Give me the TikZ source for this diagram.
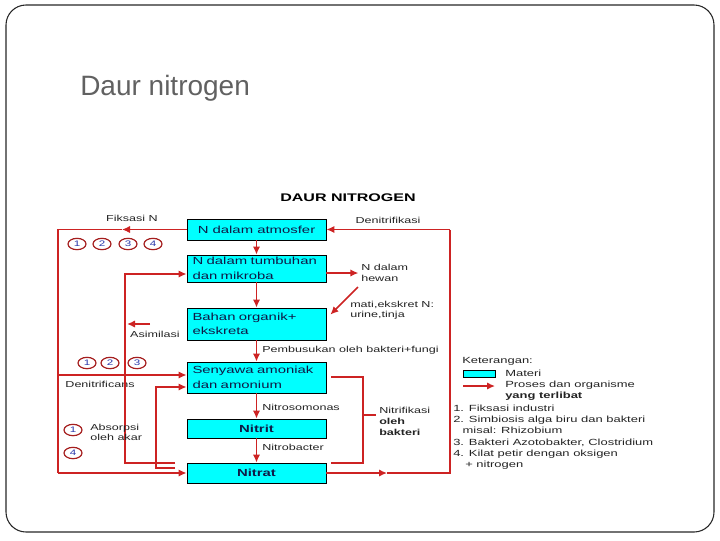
\documentclass[tikz,border=0pt]{standalone}
\usepackage{fontspec}
\setmainfont{Liberation Sans}
\newfontfamily\diagfont{Liberation Sans}[FakeStretch=1.45]
\usetikzlibrary{arrows.meta,shapes.geometric,calc}

\definecolor{boxcyan}{RGB}{0,255,255}
\definecolor{linered}{RGB}{205,35,35}
\definecolor{circred}{RGB}{165,30,30}
\definecolor{numblue}{RGB}{40,55,170}
\definecolor{boxtext}{RGB}{15,25,70}
\definecolor{labeltext}{RGB}{35,35,35}

\tikzset{
  materi/.style={draw=black, line width=0.6pt, fill=boxcyan, minimum width=104.25pt,
    inner sep=0pt, text=boxtext, font=\diagfont\fontsize{7.7}{10.9}\selectfont},
  materi2/.style={materi, text width=96pt, align=left},
  proses/.style={draw=linered, line width=1.1pt, -{Latex[length=6pt,width=5.5pt]}},
  garis/.style={draw=linered, line width=1.1pt},
  label/.style={inner sep=0pt, text=labeltext, font=\diagfont\fontsize{6.5}{7.8}\selectfont},
  nomor/.style={ellipse, draw=circred, line width=0.9pt, minimum width=13.5pt,
    minimum height=8.5pt, inner sep=0pt, text=numblue, font=\diagfont\fontsize{6}{6}\selectfont},
}

\begin{document}
\begin{tikzpicture}[x=0.75pt,y=0.75pt,yscale=-1,xscale=1]
\useasboundingbox (0,0) rectangle (720,540);

%%%%%%%%%%%%%%%%%%%%%%%%%%%%%%%%%%%%%%%%%%%%%%%%%%%%%%%%%%%%%%%%%%%%%%%%

\draw [black!85, line width=0.8pt, rounded corners=15pt] (6,5) rectangle (714,532);
\node [anchor=west, inner sep=0pt, text=black!62, font=\fontsize{21}{25}\selectfont] (slide) at (80,88) {Daur nitrogen};

\node [text=black, font=\diagfont\bfseries\fontsize{8.3}{10}\selectfont] (judul) at (348,198) {DAUR NITROGEN};

%%%%%%%%%%%%%%%%%%%%%%%%%%%%%%%%%%%%%%%%%%%%%%%%%%%%%%%%%%%%%%%%%%%%%%%%

\node [materi, minimum height=15.75pt] (atm) at (256.5,229.5) {N dalam atmosfer};
\node [materi2, minimum height=20.25pt] (tum) at (256.5,268.5) {N dalam tumbuhan\\dan mikroba};
\node [materi2, minimum height=24pt] (bahan) at (256.5,324) {Bahan organik+\\ekskreta};
\node [materi2, minimum height=23.25pt] (sen) at (256.5,377.5) {Senyawa amoniak\\dan amonium};
\node [materi, minimum height=14.25pt, font=\diagfont\bfseries\fontsize{7.7}{9}\selectfont] (nitrit) at (256.5,428.5) {Nitrit};
\node [materi, minimum height=15pt, font=\diagfont\bfseries\fontsize{7.7}{9}\selectfont] (nitrat) at (256.5,473) {Nitrat};

\foreach \a/\b in {atm/tum, tum/bahan, bahan/sen, sen/nitrit, nitrit/nitrat}
  \draw [proses] (\a) -- (\b);

\node [label, anchor=west] (busuk) at (262,350) {Pembusukan oleh bakteri+fungi};
\node [label, anchor=west] (somonas) at (262,407) {Nitrosomonas};
\node [label, anchor=west] (bacter) at (262,447) {Nitrobacter};

%%%%%%%%%%%%%%%%%%%%%%%%%%%%%%%%%%%%%%%%%%%%%%%%%%%%%%%%%%%%%%%%%%%%%%%%

\node [label] (denitri) at (388,220) {Denitrifikasi};
\coordinate (kanan1) at (387,473);
\coordinate (kanan2) at (450,229.5);
\draw [proses] (nitrat.east) -- (kanan1);
\draw [garis] (kanan1) -| (kanan2);
\draw [proses] (kanan2) -- (atm.east);

\node [label, anchor=west, align=left] (hewan) at (361,273) {N dalam\\hewan};
\draw [proses] (tum.east |- hewan) -- ++(32,0);
\node [label, anchor=west, align=left] (ekskret) at (350,310) {mati,ekskret N:\\urine,tinja};
\coordinate (mati) at (358,287);
\draw [proses] (mati) -- ($(bahan.north east)+(4,7)$);

\coordinate (nf1) at (331,377);
\coordinate (nf2) at (363,463);
\draw [garis] (nf1) -| (nf2) -- (nf2 -| nf1);
\draw [garis] (363,415) -- (376,415);
\node [label, anchor=west, align=left, font=\diagfont\fontsize{6.5}{8.3}\selectfont] (nitrifikasi) at (379,421) {Nitrifikasi\\\textbf{oleh}\\\textbf{bakteri}};

%%%%%%%%%%%%%%%%%%%%%%%%%%%%%%%%%%%%%%%%%%%%%%%%%%%%%%%%%%%%%%%%%%%%%%%%

\node [label] (fiksasi) at (132,218) {Fiksasi N};
\coordinate (kiri1) at (122,229.5);
\coordinate (kiri2) at (58,473);
\coordinate (kiri3) at (58,375);
\draw [proses] (atm.west) -- (kiri1);
\draw [garis] (kiri1) -| (kiri2);
\draw [proses] (kiri2) -- (nitrat.west);
\draw [proses] (kiri3) -- (kiri3 -| sen.west);
\node [label] (denitrificans) at (100,384) {Denitrificans};

\foreach \n/\x in {1/77, 2/102, 3/128, 4/153}
  \node [nomor] (fa\n) at (\x,244) {\n};
\foreach \n/\x in {1/87, 2/110, 3/137}
  \node [nomor] (fb\n) at (\x,363) {\n};
\node [nomor] (ab1) at (73,430) {1};
\node [nomor] (ab4) at (73,453) {4};

\coordinate (akar1) at (175,463);
\coordinate (akar2) at (125,274);
\draw [proses] (akar1) -| (akar2) -- (akar2 -| tum.west);
\node [label, anchor=west, align=left] (absorpsi) at (90,432.5) {Absorpsi\\oleh akar};

\coordinate (den1) at (175,468);
\coordinate (den2) at (156,387);
\draw [proses] (den1) -| (den2) -- (den2 -| sen.west);

\coordinate (asim) at (150,324);
\draw [proses] (asim) -- ++(-23,0);
\node [label] (asimilasi) at (155,334) {Asimilasi};

%%%%%%%%%%%%%%%%%%%%%%%%%%%%%%%%%%%%%%%%%%%%%%%%%%%%%%%%%%%%%%%%%%%%%%%%

\node [label, anchor=west, font=\diagfont\fontsize{6.7}{8}\selectfont] (keterangan) at (462,361) {Keterangan:};
\node [draw=black, line width=0.6pt, fill=boxcyan, minimum width=24pt, minimum height=5.25pt,
  inner sep=0pt, anchor=north west] (ketbox) at (463,370) {};
\node [label, anchor=west, font=\diagfont\fontsize{6.7}{8}\selectfont] (kmateri) at (505,373.5) {Materi};
\coordinate (ket1) at (463,386);
\draw [proses] (ket1) -- ++(32,0);
\node [label, anchor=north west, align=left, font=\diagfont\fontsize{6.7}{8.4}\selectfont] (kproses) at (505,381) {Proses dan organisme\\\textbf{yang terlibat}};
\node [label, anchor=north west, align=left, font=\diagfont\fontsize{6.7}{8.5}\selectfont] (daftar) at (453,404.5)
  {1. Fiksasi industri\\
   2. Simbiosis alga biru dan bakteri\\
   \hspace*{7pt}misal: Rhizobium\\
   3. Bakteri Azotobakter, Clostridium\\
   4. Kilat petir dengan oksigen\\
   \hspace*{9pt}+ nitrogen};

%%%%%%%%%%%%%%%%%%%%%%%%%%%%%%%%%%%%%%%%%%%%%%%%%%%%%%%%%%%%%%%%%%%%%%%%

\end{tikzpicture}
\end{document}
